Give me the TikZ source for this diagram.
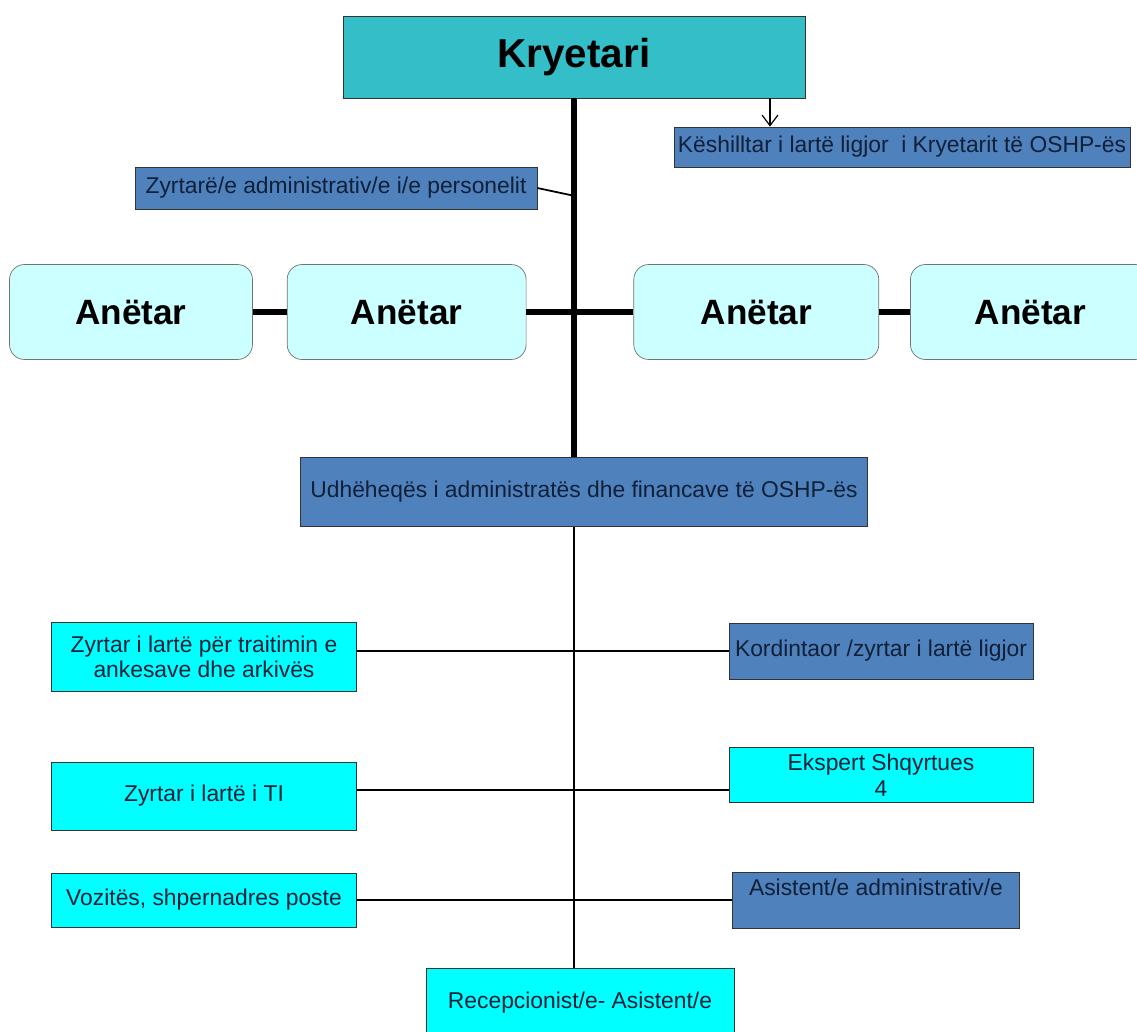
\documentclass[tikz,border=0pt]{standalone}
\usepackage{fontspec}
\setmainfont{Liberation Sans}
\usepackage{tikz}
\usetikzlibrary{positioning, calc, arrows.meta}
\definecolor{chairteal}{RGB}{52,190,200}
\definecolor{officeblue}{RGB}{79,129,189}
\definecolor{staffcyan}{RGB}{0,255,255}
\definecolor{memberfill}{RGB}{204,255,255}
\definecolor{labelink}{RGB}{16,32,56}
\tikzset{
    chair/.style={
        rectangle,
        draw=black!80,
        fill=chairteal,
        font=\fontsize{23}{26}\selectfont\bfseries,
        minimum width=9.24cm,
        minimum height=1.64cm,
    },
    member/.style={
        rectangle,
        rounded corners=3mm,
        draw=black!55,
        fill=memberfill,
        font=\fontsize{20}{24}\selectfont\bfseries,
        minimum height=1.9cm,
    },
    office/.style={
        rectangle,
        draw=black!80,
        fill=officeblue,
        text=labelink,
        font=\fontsize{13}{14.5}\selectfont,
        align=center,
        inner sep=2pt,
    },
    staff/.style={
        office,
        fill=staffcyan,
    },
    trunk/.style={line width=3.5pt},
    branch/.style={line width=1pt},
}
\begin{document}
\begin{tikzpicture}[x=0.02cm, y=-0.02cm]
      \useasboundingbox (0,0) rectangle (1137,1032);

      \node [chair] (kryetari) at (574,57) {Kryetari};
      \node [office, minimum width=9.12cm, minimum height=0.8cm] (keshilltar) at (902,147) {Këshilltar i lartë ligjor\ \ i Kryetarit të OSHP-ës};
      \node [office, minimum width=8.04cm, minimum height=0.84cm] (personel) at (336,188) {Zyrtarë/e administrativ/e i/e personelit};

      % members of the board
      \node [member, minimum width=4.86cm] (m1) at (131,312) {Anëtar};
      \node [member, minimum width=4.78cm, right=0.68cm of m1] (m2) {Anëtar};
      \node [member, minimum width=4.9cm, right=2.14cm of m2] (m3) {Anëtar};
      \node [member, minimum width=4.8cm, right=0.62cm of m3] (m4) {Anëtar};

      \node [office, minimum width=11.34cm, minimum height=1.38cm] (udh) at (584,492) {Udhëheqës i administratës dhe financave të OSHP-ës};

      % staff
      \node [staff, minimum width=6.1cm, minimum height=1.38cm] (ankesa) at (204,657) {Zyrtar i lartë për traitimin e\\ankesave dhe arkivës};
      \node [office, minimum width=6.08cm, minimum height=1.12cm] (kordin) at (881,651) {Kordintaor /zyrtar i lartë ligjor};
      \node [staff, minimum width=6.1cm, minimum height=1.36cm] (ti) at (204,796) {Zyrtar i lartë i TI};
      \node [staff, minimum width=6.08cm, minimum height=1.1cm] (ekspert) at (881,775) {Ekspert Shqyrtues\\4};
      \node [staff, minimum width=6.1cm, minimum height=1.08cm] (vozites) at (204,900) {Vozitës, shpernadres poste};
      \node [office, minimum width=5.74cm, minimum height=1.12cm] (asistent) at (876,900) {Asistent/e administrativ/e\\~};
      \node [staff, minimum width=6.16cm, minimum height=1.4cm] (recep) at (580,1003) {Recepcionist/e- Asistent/e};

      \coordinate (pjoin) at (575,196);
      \coordinate (karrow) at (770,98);

      \draw [trunk] (kryetari.south) -- (kryetari.south |- udh.north);
      \draw [trunk] (m1.east) -- (m2.west);
      \draw [trunk] (m2.east) -- (m3.west);
      \draw [trunk] (m3.east) -- (m4.west);
      \draw [branch] (personel.east) -- (pjoin);
      \draw [-{Straight Barb[length=6pt,width=9pt]}, line width=0.7pt] (karrow) -- (karrow |- keshilltar.north);

      \draw [branch] (kryetari.south |- udh.south) -- (kryetari.south |- recep.north);
      \draw [branch] (ankesa.east |- kordin.west) -- (kordin.west);
      \draw [branch] ([yshift=0.12cm]ti.east) -- ([yshift=0.12cm]ti.east -| ekspert.west);
      \draw [branch] (vozites.east) -- (asistent.west);
\end{tikzpicture}
\end{document}
